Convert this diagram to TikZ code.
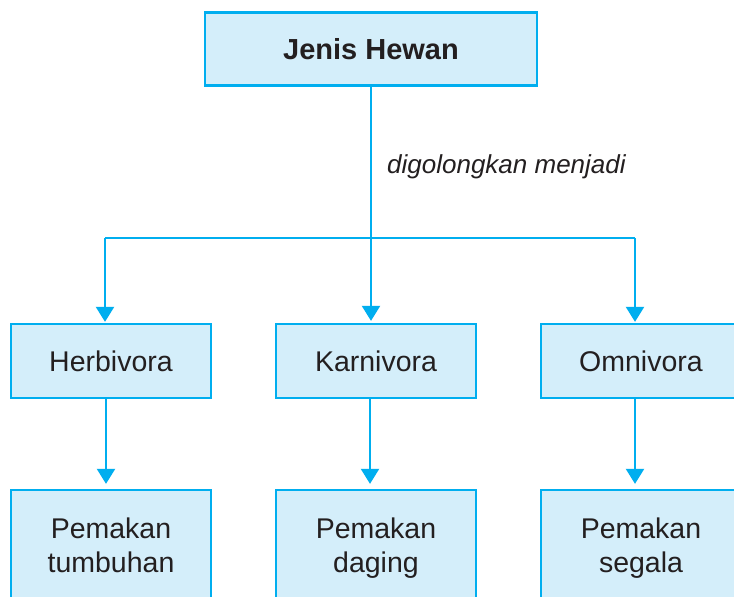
\documentclass[tikz,border=0pt]{standalone}
\usepackage{fontspec}
\setmainfont{Liberation Sans}
\usetikzlibrary{arrows.meta}
\definecolor{cyanline}{HTML}{00AEEF}
\definecolor{boxfill}{HTML}{D4EEFA}
\definecolor{inkgray}{HTML}{231F20}
\begin{document}
\begin{tikzpicture}[x=1pt,y=-1pt,
  box/.style={draw=cyanline, fill=boxfill, line width=2.3pt, minimum width=200pt,
    minimum height=74pt, inner sep=0pt, align=center, text=inkgray,
    font=\fontsize{28.5}{34}\selectfont},
  conn/.style={draw=cyanline, line width=2.2pt},
  arr/.style={conn, -{Triangle[length=15pt,width=18pt]}}]
\useasboundingbox (0,0) rectangle (734,597);
\clip (0,0) rectangle (734,597);
\fill[white] (0,0) rectangle (734,597);
% top
\node[box, minimum width=332pt, minimum height=73pt,
  font=\bfseries\fontsize{29}{34}\selectfont] (top) at (371,49) {Jenis Hewan};
% middle row
\node[box] (herb) at (111,361) {Herbivora};
\node[box] (karn) at (376,361) {Karnivora};
\node[box] (omni) at (641,361) {Omnivora};
% bottom row
\node[box, minimum height=116pt] (pt) at (111,548) {Pemakan\\tumbuhan\vphantom{g}};
\node[box, minimum height=116pt] (pd) at (376,548) {Pemakan\\daging\vphantom{g}};
\node[box, minimum height=116pt] (ps) at (641,548) {Pemakan\\segala\vphantom{g}};
% label
\node[anchor=base west, inner sep=0pt, text=inkgray, font=\itshape\fontsize{26}{30}\selectfont]
  (lbl) at (387,173) {digolongkan menjadi};
% junctions
\coordinate (jL) at (105,238);
\coordinate (jR) at (635,238);
\coordinate (cL) at (106,0);
\coordinate (cM) at (370,0);
\coordinate (cR) at (635,0);
% connectors
\draw[arr] (top.south) -- ([yshift=2pt]top.south |- karn.north);
\draw[conn] (jL) -- (jR);
\draw[arr] (jL) -- ([yshift=1pt]jL |- herb.north);
\draw[arr] (jR) -- ([yshift=1pt]jR |- omni.north);
\draw[arr] (herb.south -| cL) -- ([yshift=5pt]pt.north -| cL);
\draw[arr] (karn.south -| cM) -- ([yshift=5pt]pd.north -| cM);
\draw[arr] (omni.south -| cR) -- ([yshift=5pt]ps.north -| cR);
\end{tikzpicture}
\end{document}
